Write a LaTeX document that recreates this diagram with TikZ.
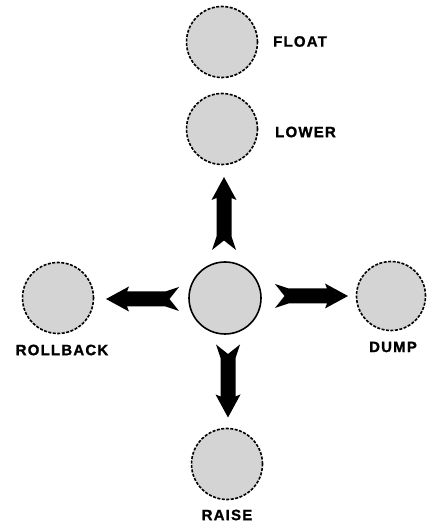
\documentclass[tikz,border=0pt]{standalone}
\usepackage{fontspec}
\setmainfont{Liberation Sans}
\newfontfamily\lblfont[LetterSpace=8,FakeBold=1.2]{Liberation Sans}
\tikzset{
  x=1pt,y=1pt,
  disc/.style={circle, minimum size=71pt, inner sep=0pt, fill=black!17, draw=black, line width=1.6pt, dash pattern=on 3pt off 1.5pt},
  centerdisc/.style={circle, minimum size=72pt, inner sep=0pt, fill=black!17, draw=black, line width=1.6pt},
  lbl/.style={font=\lblfont\fontsize{15}{15}\selectfont\bfseries, inner sep=0pt},
  pics/fatarrow/.style={code={
    \fill[black] (-36.5,12) -- (-23,7.5) -- (15.5,7.5) -- (13.5,12.5) -- (36.5,0) -- (13.5,-12.5) -- (15.5,-7.5) -- (-23,-7.5) -- (-36.5,-12) -- (-27,0) -- cycle;
  }}
}
\begin{document}
\begin{tikzpicture}
\useasboundingbox (0,0) rectangle (426,525);
\node[disc] (float) at (222,483) {};
\node[disc] (lower) at (222,396) {};
\node[centerdisc] (center) at (225,227) {};
\node[disc] (rollback) at (58,227) {};
\node[disc, minimum size=69pt] (dump) at (391,229) {};
\node[disc] (raise) at (227,61) {};
\node[lbl, anchor=west] (tfloat) at (273,483.5) {FLOAT};
\node[lbl, anchor=west] (tlower) at (275,393) {LOWER};
\node[lbl] (trollback) at (62,175) {ROLLBACK};
\node[lbl] (tdump) at (393,178) {DUMP};
\node[lbl] (traise) at (227,10) {RAISE};
\pic[rotate=90] at (224,311.5) {fatarrow};
\pic[rotate=-90] at (228,144) {fatarrow};
\pic[rotate=180] at (142.5,226) {fatarrow};
\pic at (311.5,229) {fatarrow};
\end{tikzpicture}
\end{document}
